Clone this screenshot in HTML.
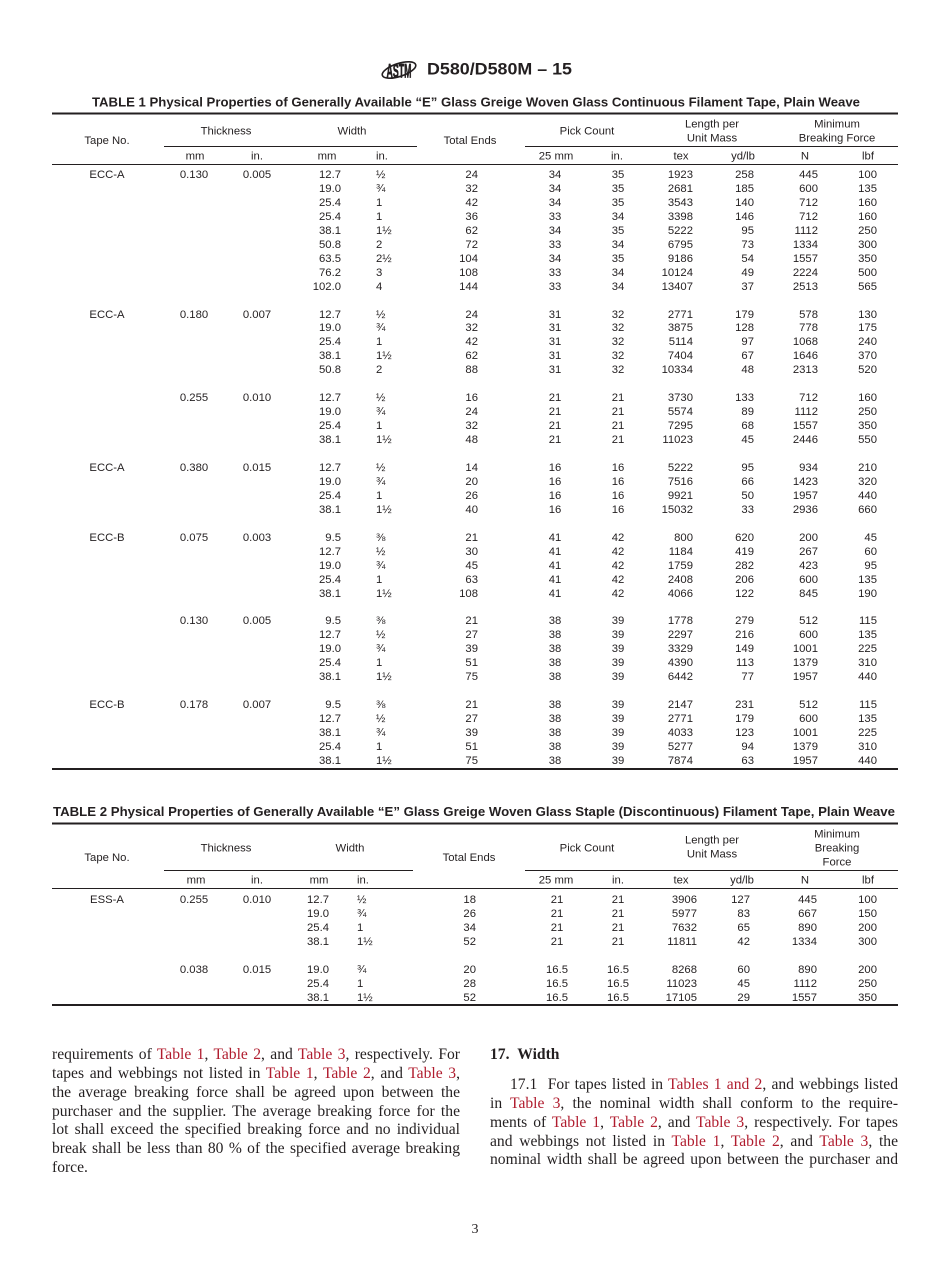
<!DOCTYPE html>
<html><head><meta charset="utf-8">
<style>
html,body{margin:0;padding:0;background:#fff}
#p{position:relative;width:950px;height:1272px;overflow:hidden;background:#fff;color:#231f20}
svg{position:absolute;left:0;top:0}
.t{position:absolute;left:52px;width:846px;border-collapse:collapse;table-layout:fixed;font-family:"Liberation Sans",Arial,sans-serif;font-size:11.3px;color:#231f20}
.t td{padding:0;white-space:nowrap;overflow:visible}
#t1 td{height:13.95px;line-height:13.95px}
#t2 td{height:14px;line-height:14px}
.t td:nth-child(1),.t td:nth-child(2),.t td:nth-child(3),.t td:nth-child(7),.t td:nth-child(8){text-align:center}
.t td:nth-child(4),.t td:nth-child(6),.t td:nth-child(9),.t td:nth-child(10),.t td:nth-child(11),.t td:nth-child(12){text-align:right}
.t td:nth-child(5){text-align:left}
#t1 td:nth-child(5){padding-left:35px}
#t1 td:nth-child(7){padding-left:42px}
#t2 td:nth-child(5){padding-left:28px}
#t2 td:nth-child(7){padding-left:48px}
#t2 td:nth-child(11){padding-right:1px}
.t td:nth-child(12){padding-right:21px}
.col{position:absolute;width:408px;font-family:"Liberation Serif","Times New Roman",serif;font-size:15.6px;line-height:18.85px;color:#231f20}
.j{width:408px;box-sizing:border-box;text-align:justify;text-align-last:justify}
.l{color:#b01c2e}
.pn{position:absolute;left:0;width:950px;top:1222px;text-align:center;font-family:"Liberation Serif",serif;font-size:14px;color:#231f20}
</style></head>
<body><div id="p">
<svg width="950" height="1272" font-family="Liberation Sans, Arial, sans-serif" fill="#231f20">
<g transform="translate(381,57)">
<ellipse cx="18" cy="13" rx="17.5" ry="6.5" fill="none" stroke="#231f20" stroke-width="1.6" transform="rotate(-18 18 13)"/>
<text x="18" y="20.5" font-size="19" font-weight="bold" text-anchor="middle" textLength="25" lengthAdjust="spacingAndGlyphs" fill="#231f20" stroke="#231f20" stroke-width="0.7">ASTM</text>
</g>
<text x="427" y="74.5" font-size="17" font-weight="bold" textLength="145" lengthAdjust="spacingAndGlyphs">D580/D580M – 15</text>
<text x="92" y="106.5" font-size="12.5" font-weight="bold" textLength="768" lengthAdjust="spacingAndGlyphs">TABLE 1 Physical Properties of Generally Available “E” Glass Greige Woven Glass Continuous Filament Tape, Plain Weave</text>
<text x="53" y="815.8" font-size="12.5" font-weight="bold" textLength="842" lengthAdjust="spacingAndGlyphs">TABLE 2 Physical Properties of Generally Available “E” Glass Greige Woven Glass Staple (Discontinuous) Filament Tape, Plain Weave</text>
<g stroke="#231f20">
<line x1="52" y1="113.5" x2="898" y2="113.5" stroke-width="2"/>
<line x1="164" y1="146.5" x2="417" y2="146.5" stroke-width="1"/>
<line x1="525" y1="146.5" x2="898" y2="146.5" stroke-width="1"/>
<line x1="52" y1="164.5" x2="898" y2="164.5" stroke-width="1"/>
<line x1="52" y1="769" x2="898" y2="769" stroke-width="2"/>
<line x1="52" y1="823.5" x2="898" y2="823.5" stroke-width="2"/>
<line x1="164" y1="870.5" x2="413" y2="870.5" stroke-width="1"/>
<line x1="525" y1="870.5" x2="898" y2="870.5" stroke-width="1"/>
<line x1="52" y1="888.5" x2="898" y2="888.5" stroke-width="1"/>
<line x1="52" y1="1005" x2="898" y2="1005" stroke-width="2"/>
</g>
<g font-size="11.3" text-anchor="middle">
<text x="107" y="144">Tape No.</text>
<text x="226" y="134.5">Thickness</text>
<text x="352" y="134.5">Width</text>
<text x="470" y="144">Total Ends</text>
<text x="587" y="134.5">Pick Count</text>
<text x="712" y="127.5">Length per</text>
<text x="712" y="141.5">Unit Mass</text>
<text x="837" y="127.5">Minimum</text>
<text x="837" y="141.5">Breaking Force</text>
<text x="195" y="159.5">mm</text>
<text x="257" y="159.5">in.</text>
<text x="327" y="159.5">mm</text>
<text x="376" y="159.5" text-anchor="start">in.</text>
<text x="556" y="159.5">25 mm</text>
<text x="617" y="159.5">in.</text>
<text x="681" y="159.5">tex</text>
<text x="743" y="159.5">yd/lb</text>
<text x="805" y="159.5">N</text>
<text x="868" y="159.5">lbf</text>

<text x="107" y="861">Tape No.</text>
<text x="226" y="851.5">Thickness</text>
<text x="350" y="851.5">Width</text>
<text x="469" y="861">Total Ends</text>
<text x="587" y="851.5">Pick Count</text>
<text x="712" y="843.5">Length per</text>
<text x="712" y="857.5">Unit Mass</text>
<text x="837" y="837.5">Minimum</text>
<text x="837" y="851.5">Breaking</text>
<text x="837" y="865.5">Force</text>
<text x="196" y="883.5">mm</text>
<text x="257" y="883.5">in.</text>
<text x="319" y="883.5">mm</text>
<text x="357" y="883.5" text-anchor="start">in.</text>
<text x="556" y="883.5">25 mm</text>
<text x="618" y="883.5">in.</text>
<text x="681" y="883.5">tex</text>
<text x="742" y="883.5">yd/lb</text>
<text x="805" y="883.5">N</text>
<text x="868" y="883.5">lbf</text>
</g>
</svg>

<table id="t1" class="t" style="top:169px">
<colgroup><col style="width:110px"><col style="width:64px"><col style="width:62px"><col style="width:53px"><col style="width:79px"><col style="width:58px"><col style="width:112px"><col style="width:56px"><col style="width:47px"><col style="width:61px"><col style="width:64px"><col style="width:80px"></colgroup>
<tr><td>ECC-A<td>0.130<td>0.005<td>12.7<td>½<td>24<td>34<td>35<td>1923<td>258<td>445<td>100
<tr><td><td><td><td>19.0<td>¾<td>32<td>34<td>35<td>2681<td>185<td>600<td>135
<tr><td><td><td><td>25.4<td>1<td>42<td>34<td>35<td>3543<td>140<td>712<td>160
<tr><td><td><td><td>25.4<td>1<td>36<td>33<td>34<td>3398<td>146<td>712<td>160
<tr><td><td><td><td>38.1<td>1½<td>62<td>34<td>35<td>5222<td>95<td>1112<td>250
<tr><td><td><td><td>50.8<td>2<td>72<td>33<td>34<td>6795<td>73<td>1334<td>300
<tr><td><td><td><td>63.5<td>2½<td>104<td>34<td>35<td>9186<td>54<td>1557<td>350
<tr><td><td><td><td>76.2<td>3<td>108<td>33<td>34<td>10124<td>49<td>2224<td>500
<tr><td><td><td><td>102.0<td>4<td>144<td>33<td>34<td>13407<td>37<td>2513<td>565
<tr><td colspan="12">
<tr><td>ECC-A<td>0.180<td>0.007<td>12.7<td>½<td>24<td>31<td>32<td>2771<td>179<td>578<td>130
<tr><td><td><td><td>19.0<td>¾<td>32<td>31<td>32<td>3875<td>128<td>778<td>175
<tr><td><td><td><td>25.4<td>1<td>42<td>31<td>32<td>5114<td>97<td>1068<td>240
<tr><td><td><td><td>38.1<td>1½<td>62<td>31<td>32<td>7404<td>67<td>1646<td>370
<tr><td><td><td><td>50.8<td>2<td>88<td>31<td>32<td>10334<td>48<td>2313<td>520
<tr><td colspan="12">
<tr><td><td>0.255<td>0.010<td>12.7<td>½<td>16<td>21<td>21<td>3730<td>133<td>712<td>160
<tr><td><td><td><td>19.0<td>¾<td>24<td>21<td>21<td>5574<td>89<td>1112<td>250
<tr><td><td><td><td>25.4<td>1<td>32<td>21<td>21<td>7295<td>68<td>1557<td>350
<tr><td><td><td><td>38.1<td>1½<td>48<td>21<td>21<td>11023<td>45<td>2446<td>550
<tr><td colspan="12">
<tr><td>ECC-A<td>0.380<td>0.015<td>12.7<td>½<td>14<td>16<td>16<td>5222<td>95<td>934<td>210
<tr><td><td><td><td>19.0<td>¾<td>20<td>16<td>16<td>7516<td>66<td>1423<td>320
<tr><td><td><td><td>25.4<td>1<td>26<td>16<td>16<td>9921<td>50<td>1957<td>440
<tr><td><td><td><td>38.1<td>1½<td>40<td>16<td>16<td>15032<td>33<td>2936<td>660
<tr><td colspan="12">
<tr><td>ECC-B<td>0.075<td>0.003<td>9.5<td>⅜<td>21<td>41<td>42<td>800<td>620<td>200<td>45
<tr><td><td><td><td>12.7<td>½<td>30<td>41<td>42<td>1184<td>419<td>267<td>60
<tr><td><td><td><td>19.0<td>¾<td>45<td>41<td>42<td>1759<td>282<td>423<td>95
<tr><td><td><td><td>25.4<td>1<td>63<td>41<td>42<td>2408<td>206<td>600<td>135
<tr><td><td><td><td>38.1<td>1½<td>108<td>41<td>42<td>4066<td>122<td>845<td>190
<tr><td colspan="12">
<tr><td><td>0.130<td>0.005<td>9.5<td>⅜<td>21<td>38<td>39<td>1778<td>279<td>512<td>115
<tr><td><td><td><td>12.7<td>½<td>27<td>38<td>39<td>2297<td>216<td>600<td>135
<tr><td><td><td><td>19.0<td>¾<td>39<td>38<td>39<td>3329<td>149<td>1001<td>225
<tr><td><td><td><td>25.4<td>1<td>51<td>38<td>39<td>4390<td>113<td>1379<td>310
<tr><td><td><td><td>38.1<td>1½<td>75<td>38<td>39<td>6442<td>77<td>1957<td>440
<tr><td colspan="12">
<tr><td>ECC-B<td>0.178<td>0.007<td>9.5<td>⅜<td>21<td>38<td>39<td>2147<td>231<td>512<td>115
<tr><td><td><td><td>12.7<td>½<td>27<td>38<td>39<td>2771<td>179<td>600<td>135
<tr><td><td><td><td>38.1<td>¾<td>39<td>38<td>39<td>4033<td>123<td>1001<td>225
<tr><td><td><td><td>25.4<td>1<td>51<td>38<td>39<td>5277<td>94<td>1379<td>310
<tr><td><td><td><td>38.1<td>1½<td>75<td>38<td>39<td>7874<td>63<td>1957<td>440
</table>

<table id="t2" class="t" style="top:893px">
<colgroup><col style="width:110px"><col style="width:64px"><col style="width:62px"><col style="width:41px"><col style="width:91px"><col style="width:56px"><col style="width:114px"><col style="width:56px"><col style="width:51px"><col style="width:53px"><col style="width:68px"><col style="width:80px"></colgroup>
<tr><td>ESS-A<td>0.255<td>0.010<td>12.7<td>½<td>18<td>21<td>21<td>3906<td>127<td>445<td>100
<tr><td><td><td><td>19.0<td>¾<td>26<td>21<td>21<td>5977<td>83<td>667<td>150
<tr><td><td><td><td>25.4<td>1<td>34<td>21<td>21<td>7632<td>65<td>890<td>200
<tr><td><td><td><td>38.1<td>1½<td>52<td>21<td>21<td>11811<td>42<td>1334<td>300
<tr><td colspan="12">
<tr><td><td>0.038<td>0.015<td>19.0<td>¾<td>20<td>16.5<td>16.5<td>8268<td>60<td>890<td>200
<tr><td><td><td><td>25.4<td>1<td>28<td>16.5<td>16.5<td>11023<td>45<td>1112<td>250
<tr><td><td><td><td>38.1<td>1½<td>52<td>16.5<td>16.5<td>17105<td>29<td>1557<td>350
</table>

<div class="col" style="left:52px;top:1046px">
<div class="j">requirements of <span class="l">Table 1</span>, <span class="l">Table 2</span>, and <span class="l">Table 3</span>, respectively. For</div>
<div class="j">tapes and webbings not listed in <span class="l">Table 1</span>, <span class="l">Table 2</span>, and <span class="l">Table 3</span>,</div>
<div class="j">the average breaking force shall be agreed upon between the</div>
<div class="j">purchaser and the supplier. The average breaking force for the</div>
<div class="j">lot shall exceed the specified breaking force and no individual</div>
<div class="j">break shall be less than 80 % of the specified average breaking</div>
<div>force.</div>
</div>

<div class="col" style="left:490px;top:1046px">
<div style="font-weight:bold">17.&nbsp;&nbsp;Width</div>
</div>
<div class="col" style="left:490px;top:1076px">
<div class="j" style="padding-left:20px">17.1&nbsp;&nbsp;For tapes listed in <span class="l">Tables 1 and 2</span>, and webbings listed</div>
<div class="j">in <span class="l">Table 3</span>, the nominal width shall conform to the require-</div>
<div class="j">ments of <span class="l">Table 1</span>, <span class="l">Table 2</span>, and <span class="l">Table 3</span>, respectively. For tapes</div>
<div class="j">and webbings not listed in <span class="l">Table 1</span>, <span class="l">Table 2</span>, and <span class="l">Table 3</span>, the</div>
<div class="j">nominal width shall be agreed upon between the purchaser and</div>
</div>

<div class="pn">3</div>
</div></body></html>
